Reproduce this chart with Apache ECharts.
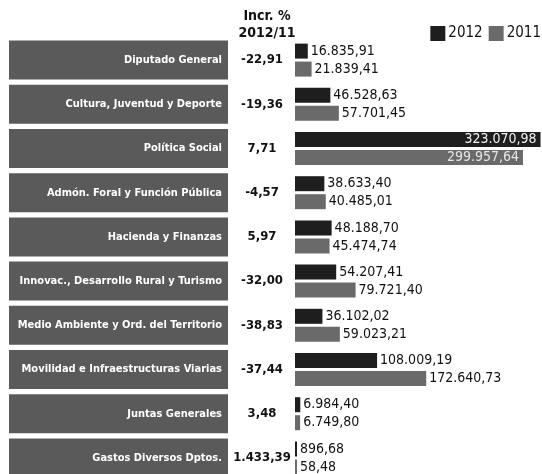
<!DOCTYPE html>
<html>
<head>
<meta charset="UTF-8">
<title>Presupuesto por departamentos</title>
<script src="https://cdn.jsdelivr.net/npm/echarts@6/dist/echarts.min.js"></script>
<style>
  html, body { margin: 0; padding: 0; background: #fff; }
  #main { width: 542px; height: 474px; }
</style>
</head>
<body>
<div id="main"></div>
<script type="text/javascript">
var departamentos = ['Diputado General', 'Cultura, Juventud y Deporte', 'Política Social',
  'Admón. Foral y Función Pública', 'Hacienda y Finanzas', 'Innovac., Desarrollo Rural y Turismo',
  'Medio Ambiente y Ord. del Territorio', 'Movilidad e Infraestructuras Viarias',
  'Juntas Generales', 'Gastos Diversos Dptos.'];
var v2012 = [16835.91, 46528.63, 323070.98, 38633.40, 48188.70, 54207.41, 36102.02, 108009.19, 6984.40, 896.68];
var v2011 = [21839.41, 57701.45, 299957.64, 40485.01, 45474.74, 79721.40, 59023.21, 172640.73, 6749.80, 58.48];
var incr = [-22.91, -19.36, 7.71, -4.57, 5.97, -32.00, -38.83, -37.44, 3.48, 1433.39];

var fuente = '"DejaVu Sans Condensed", sans-serif';

// formato español: 16.835,91
function es(v) {
  var s = Math.abs(v).toFixed(2).split('.');
  var ent = s[0].replace(/\B(?=(\d{3})+(?!\d))/g, '.');
  return (v < 0 ? '-' : '') + ent + ',' + s[1];
}

// la barra grande lleva la etiqueta dentro
function datos(arr, colorDentro) {
  return arr.map(function (v) {
    if (v > 250000) {
      return { value: v, label: { position: 'insideRight', color: colorDentro, distance: 4 } };
    }
    return v;
  });
}

var myChart = echarts.init(document.getElementById('main'));
myChart.setOption({
  animation: false,
  textStyle: { fontFamily: fuente },
  title: {
    text: 'Incr. %\n2012/11',
    left: 262, top: 3,
    textAlign: 'center',
    textStyle: { fontFamily: fuente, fontSize: 14, fontWeight: 'bold', lineHeight: 17, color: '#111' }
  },
  legend: {
    data: ['2012', '2011'],
    right: -4, top: 21,
    icon: 'rect',
    itemWidth: 15, itemHeight: 15, itemGap: 6,
    textStyle: { fontFamily: fuente, fontSize: 15, color: '#111', padding: [0, 0, 0, -2] }
  },
  grid: { left: 295, right: 0, top: 38, height: 442, outerBoundsMode: 'none' },
  xAxis: {
    type: 'value', min: 0, max: 325000,
    show: false
  },
  yAxis: [{
    type: 'category', inverse: true, data: departamentos,
    axisLine: { show: false }, axisTick: { show: false },
    axisLabel: {
      margin: 67,
      formatter: function (v) { return '{b|' + v + '}'; },
      rich: {
        b: {
          fontFamily: fuente, fontSize: 11, fontWeight: 'bold', color: '#fff',
          backgroundColor: '#5a5a5a',
          width: 213, height: 39, lineHeight: 39,
          padding: [0, 6, 0, 0], align: 'right'
        }
      }
    }
  }, {
    type: 'category', inverse: true, position: 'left', data: departamentos,
    axisLine: { show: false }, axisTick: { show: false },
    axisLabel: {
      margin: 33, align: 'center',
      fontFamily: fuente, fontSize: 13, fontWeight: 'bold', color: '#111',
      formatter: function (v, i) { return es(incr[i]); }
    }
  }],
  series: [{
    name: '2012', type: 'bar',
    data: datos(v2012, '#f2f2f2'),
    barWidth: 15, barGap: '20%', barMinHeight: 2,
    itemStyle: { color: '#1e1e1e' },
    label: {
      show: true, position: 'right', distance: 3,
      fontFamily: fuente, fontSize: 14, color: '#111',
      formatter: function (p) { return es(p.value); }
    }
  }, {
    name: '2011', type: 'bar',
    data: datos(v2011, '#e6e6e6'),
    barWidth: 15, barMinHeight: 2,
    itemStyle: { color: '#6a6a6a' },
    label: {
      show: true, position: 'right', distance: 3,
      fontFamily: fuente, fontSize: 14, color: '#111',
      formatter: function (p) { return es(p.value); }
    }
  }]
});
</script>
</body>
</html>
